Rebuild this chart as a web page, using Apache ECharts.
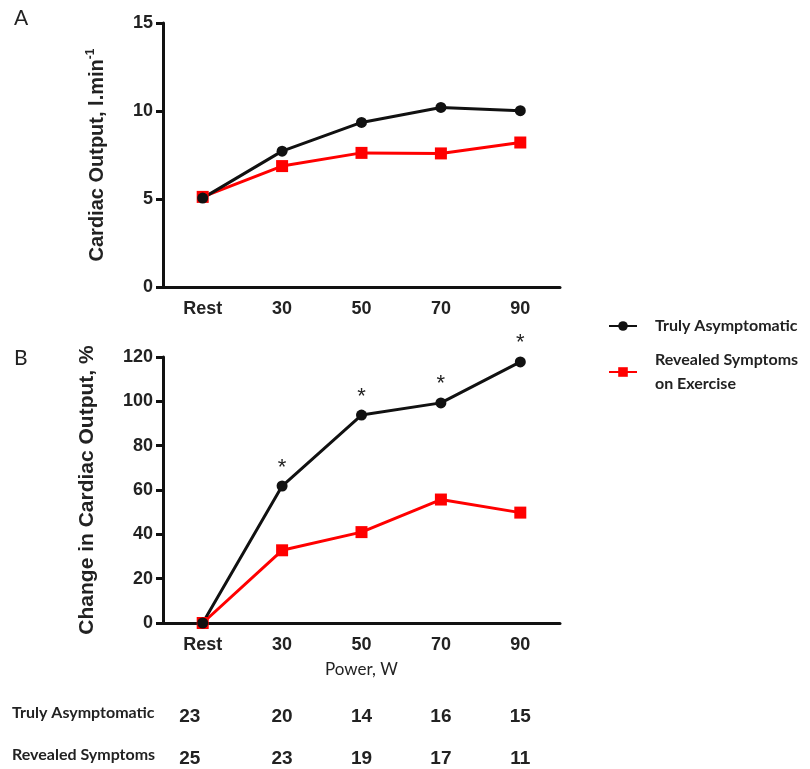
<!DOCTYPE html>
<html>
<head>
<meta charset="utf-8">
<script src="https://cdn.jsdelivr.net/npm/echarts@6/dist/echarts.min.js"></script>
<style>
html,body{margin:0;padding:0;background:#fff;}
#main{width:810px;height:769px;}
</style>
</head>
<body>
<div id="main"></div>
<script>
// Data
var categories = ['Rest', '30', '50', '70', '90'];
var seriesNames = ['Truly Asymptomatic', 'Revealed Symptoms on Exercise'];
var coAsymptomatic = [5.05, 7.72, 9.35, 10.2, 10.02];
var coSymptoms = [5.12, 6.87, 7.62, 7.59, 8.21];
var changeAsymptomatic = [0, 61.8, 93.8, 99.3, 117.8];
var changeSymptoms = [0, 32.8, 41.0, 55.7, 49.8];
var significant = [false, true, true, true, true];
var nAsymptomatic = [23, 20, 14, 16, 15];
var nSymptoms = [25, 23, 19, 17, 11];
var rowLabels = ['Truly Asymptomatic', 'Revealed Symptoms'];
var yTicksA = {min: 0, max: 15, interval: 5};
var yTicksB = {min: 0, max: 120, interval: 20};

var AX = '#111';
var bold = 'Liberation Sans, Arial, sans-serif';
var sansC = 'Lato, Open Sans, sans-serif';

function catAxis(grid, extra) {
  var a = {
    type: 'category', gridIndex: grid, data: categories, boundaryGap: true,
    axisLine: {lineStyle: {color: AX, width: 3}},
    axisTick: {alignWithLabel: true, length: 8, lineStyle: {color: AX, width: 3}},
    axisLabel: {color: '#222', fontFamily: bold, fontWeight: 'bold', fontSize: 18, margin: 13},
    splitLine: {show: false}
  };
  return Object.assign(a, extra || {});
}
function countAxis(grid, counts, offset) {
  return {
    type: 'category', gridIndex: grid, data: categories, boundaryGap: true, position: 'bottom', offset: offset,
    axisLine: {show: false}, axisTick: {show: false}, splitLine: {show: false},
    axisLabel: {color: '#222', fontFamily: bold, fontWeight: 'bold', fontSize: 19, margin: 0, verticalAlign: 'top',
      formatter: function (v, i) { return i === 0 ? '{f|' + counts[i] + '}' : String(counts[i]); },
      rich: {f: {fontFamily: bold, fontWeight: 'bold', fontSize: 19, color: '#222', padding: [0, 26, 0, 0]}}}
  };
}
function valAxis(grid, t, name, gap, nameStyle) {
  return {
    type: 'value', gridIndex: grid, min: t.min, max: t.max, interval: t.interval,
    name: name, nameLocation: 'middle', nameRotate: 90, nameGap: gap,
    nameTextStyle: nameStyle,
    axisLine: {show: true, lineStyle: {color: AX, width: 3}},
    axisTick: {show: true, length: 7, lineStyle: {color: AX, width: 3}},
    axisLabel: {color: '#222', fontFamily: bold, fontWeight: 'bold', fontSize: 18, margin: 10},
    splitLine: {show: false}
  };
}

var nameStyleA = {color: '#222', rich: {
  a: {fontFamily: bold, fontWeight: 'bold', fontSize: 20, color: '#222', lineHeight: 24},
  s: {fontFamily: bold, fontWeight: 'bold', fontSize: 12, color: '#222', verticalAlign: 'top', lineHeight: 24}
}};
var nameStyleB = {color: '#222', fontFamily: bold, fontWeight: 'bold', fontSize: 21};

function starData(vals) {
  return vals.map(function (v, i) {
    return significant[i] ? {value: v, label: {show: true}} : v;
  });
}

var option = {
  backgroundColor: '#fff',
  animation: false,
  grid: [
    {left: 163, top: 23, width: 397, height: 264},
    {left: 163, top: 357, width: 397, height: 266}
  ],
  xAxis: [
    catAxis(0),
    catAxis(1, {name: 'Power, W', nameLocation: 'middle', nameGap: 38,
      nameTextStyle: {fontFamily: sansC, fontSize: 17, color: '#222'}}),
    countAxis(1, nAsymptomatic, 84),
    countAxis(1, nSymptoms, 126)
  ],
  yAxis: [
    valAxis(0, yTicksA, '{a|Cardiac Output, l.min}{s|-1}', 54, nameStyleA),
    valAxis(1, yTicksB, 'Change in Cardiac Output, %', 65, nameStyleB)
  ],
  legend: {
    orient: 'vertical', left: 603, top: 305, itemGap: 2,
    itemWidth: 28, itemHeight: 12,
    data: [seriesNames[0], seriesNames[1]],
    formatter: function (n) { return n === seriesNames[1] ? 'Revealed Symptoms\non Exercise' : n; },
    textStyle: {fontFamily: sansC, fontWeight: 'bold', fontSize: 16, color: '#222', lineHeight: 24, padding: [8, 0, 0, 13]}
  },
  graphic: [
    {type: 'text', left: 14, top: 8, style: {text: 'A', fontFamily: sansC, fontSize: 21, fill: '#222'}},
    {type: 'text', left: 14, top: 348, style: {text: 'B', fontFamily: sansC, fontSize: 21, fill: '#222'}},
    {type: 'text', left: 12, top: 705, style: {text: rowLabels[0], fontFamily: sansC, fontWeight: 'bold', fontSize: 16, fill: '#222'}},
    {type: 'text', left: 12, top: 747, style: {text: rowLabels[1], fontFamily: sansC, fontWeight: 'bold', fontSize: 16, fill: '#222'}}
  ],
  series: [
    {name: seriesNames[1], type: 'line', xAxisIndex: 0, yAxisIndex: 0, data: coSymptoms,
      symbol: 'rect', symbolSize: 12, lineStyle: {color: '#ff0000', width: 3}, itemStyle: {color: '#ff0000'}},
    {name: seriesNames[0], type: 'line', xAxisIndex: 0, yAxisIndex: 0, data: coAsymptomatic,
      symbol: 'circle', symbolSize: 11, lineStyle: {color: '#111', width: 3}, itemStyle: {color: '#111'}},
    {name: seriesNames[1], type: 'line', xAxisIndex: 1, yAxisIndex: 1, data: changeSymptoms,
      symbol: 'rect', symbolSize: 12, lineStyle: {color: '#ff0000', width: 3}, itemStyle: {color: '#ff0000'}},
    {name: seriesNames[0], type: 'line', xAxisIndex: 1, yAxisIndex: 1, data: starData(changeAsymptomatic),
      symbol: 'circle', symbolSize: 11, lineStyle: {color: '#111', width: 3}, itemStyle: {color: '#111'},
      label: {show: false, position: 'top', distance: 2, formatter: '*', fontFamily: bold, fontSize: 22, color: '#222'}}
  ]
};

var chart = echarts.init(document.getElementById('main'), null, {renderer: 'canvas'});
chart.setOption(option);
</script>
</body>
</html>
